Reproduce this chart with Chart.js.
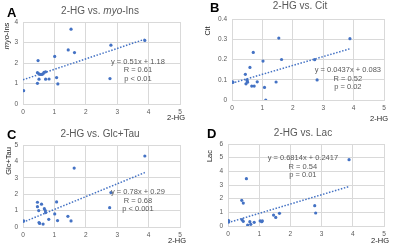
<!DOCTYPE html>
<html>
<head>
<meta charset="utf-8">
<script src="https://cdn.jsdelivr.net/npm/chart.js@4.4.0/dist/chart.umd.min.js"></script>
<style>
  body { margin: 0; background: #fff; width: 400px; height: 247px; position: relative; overflow: hidden; }
  canvas { position: absolute; }
</style>
</head>
<body>
<canvas id="cA" width="200" height="123" style="left:0;top:0"></canvas>
<canvas id="cB" width="200" height="123" style="left:200px;top:0"></canvas>
<canvas id="cC" width="200" height="124" style="left:0;top:123px"></canvas>
<canvas id="cD" width="200" height="124" style="left:200px;top:123px"></canvas>
<script>
// A: 2-HG vs myo-Ins
const hgA  = [0.02, 0.46, 0.46, 0.48, 0.51, 0.51, 0.55, 0.60, 0.64, 0.67, 0.72, 0.72, 0.83, 1.01, 1.07, 1.11, 1.44, 1.53, 1.64, 2.77, 2.80, 3.88];
const insA = [0.65, 1.01, 1.53, 2.12, 1.47, 1.21, 1.44, 1.44, 1.47, 1.55, 1.57, 1.21, 1.22, 2.32, 1.29, 0.98, 2.64, 3.65, 2.51, 1.24, 2.87, 3.10];
const fitA = [[0, 1.18], [3.88, 3.16]];
const eqA  = ['y = 0.51x + 1.18', 'R = 0.61', 'p < 0.01'];

// B: 2-HG vs Cit
const hgB  = [0.02, 0.03, 0.44, 0.46, 0.49, 0.50, 0.51, 0.59, 0.65, 0.70, 0.73, 0.83, 1.02, 1.07, 1.11, 1.45, 1.54, 1.63, 2.72, 2.80, 3.88];
const citB = [0.089, 0.088, 0.127, 0.080, 0.100, 0.094, 0.088, 0.161, 0.069, 0.235, 0.069, 0.090, 0.192, 0.062, 0.000, 0.089, 0.306, 0.200, 0.199, 0.099, 0.303];
const fitB = [[0, 0.083], [3.88, 0.253]];
const eqB  = ['y = 0.0437x + 0.083', 'R = 0.52', 'p = 0.02'];

// C: 2-HG vs Glc+Tau
const hgC  = [0.02, 0.46, 0.46, 0.50, 0.51, 0.53, 0.59, 0.64, 0.68, 0.71, 0.72, 0.82, 1.01, 1.07, 1.10, 1.43, 1.53, 1.63, 2.76, 2.80, 3.88];
const glcC = [0.37, 1.51, 1.24, 1.00, 0.27, 0.22, 1.39, 0.18, 1.12, 1.00, 0.88, 0.47, 0.80, 1.53, 0.39, 0.65, 0.37, 3.59, 1.18, 2.10, 4.33];
const fitC = [[0, 0.29], [3.88, 3.32]];
const eqC  = ['y = 0.78x + 0.29', 'R = 0.68', 'p < 0.001'];

// D: 2-HG vs Lac
const hgD  = [0.02, 0.02, 0.44, 0.45, 0.49, 0.49, 0.59, 0.63, 0.70, 0.73, 0.84, 1.03, 1.08, 1.10, 1.46, 1.53, 1.65, 2.78, 2.81, 3.88];
const lacD = [0.40, 0.30, 1.88, 0.46, 1.68, 0.34, 3.46, 0.07, 0.32, 0.12, 0.27, 0.37, 0.32, 0.37, 0.80, 0.63, 0.93, 1.49, 0.95, 4.85];
const fitD = [[0, 0.2417], [3.88, 2.89]];
const eqD  = ['y = 0.6814x + 0.2417', 'R = 0.54', 'p = 0.01'];

const blue = '#4472C4';
const grey = '#595959';
const font = 'Liberation Sans, Arial, sans-serif';

function pts(xs, ys) { return xs.map((x, i) => ({x: x, y: ys[i]})); }

// draw a string made of plain / italic pieces
function drawParts(ctx, parts, size, weight, x, y, align) {
  let w = 0;
  parts.forEach(p => {
    ctx.font = (p.i ? 'italic ' : '') + weight + ' ' + size + 'px ' + font;
    w += ctx.measureText(p.t).width;
  });
  let cx = align == 'center' ? x - w / 2 : x;
  ctx.textAlign = 'left';
  parts.forEach(p => {
    ctx.font = (p.i ? 'italic ' : '') + weight + ' ' + size + 'px ' + font;
    ctx.fillText(p.t, cx, y);
    cx += ctx.measureText(p.t).width;
  });
}

const panelText = {
  id: 'panelText',
  afterDraw(chart, args, o) {
    const ctx = chart.ctx;
    const xs = chart.scales.x, ys = chart.scales.y;
    ctx.save();
    ctx.textBaseline = 'middle';
    // letter
    ctx.fillStyle = '#000';
    ctx.font = 'bold 13px ' + font;
    ctx.textAlign = 'left';
    ctx.fillText(o.letter, o.letterPos[0], o.letterPos[1]);
    // title
    ctx.fillStyle = grey;
    drawParts(ctx, o.title, 10, 'normal', o.titlePos[0], o.titlePos[1], 'center');
    // y title
    ctx.fillStyle = '#222';
    ctx.save();
    ctx.translate(o.yTitlePos[0], o.yTitlePos[1]);
    ctx.rotate(-Math.PI / 2);
    drawParts(ctx, o.yTitle, 7.5, 'normal', 0, 0, 'center');
    ctx.restore();
    // x title
    drawParts(ctx, [{t: '2-HG'}], 7.5, 'normal', o.xTitlePos[0], o.xTitlePos[1], 'center');
    // equation
    ctx.fillStyle = grey;
    ctx.font = '7.5px ' + font;
    ctx.textAlign = 'center';
    const ex = xs.getPixelForValue(o.eqAt[0]);
    const ey = ys.getPixelForValue(o.eqAt[1]);
    o.eq.forEach((s, i) => ctx.fillText(s, ex, ey + i * 8.4));
    ctx.restore();
  }
};

function makeChart(id, xs, ys, fit, yMax, yStep, box, text) {
  return new Chart(document.getElementById(id), {
    type: 'scatter',
    data: {
      datasets: [{
        data: pts(xs, ys),
        backgroundColor: blue,
        borderColor: blue,
        pointRadius: 1.6,
        pointHoverRadius: 1.6,
        borderWidth: 0
      }, {
        data: fit.map(p => ({x: p[0], y: p[1]})),
        showLine: true,
        borderColor: blue,
        borderWidth: 1.5,
        borderDash: [1.5, 1.6],
        pointRadius: 0
      }]
    },
    options: {
      responsive: false,
      animation: false,
      devicePixelRatio: 1,
      layout: { padding: { top: box.top, right: box.right, left: 0, bottom: 0 } },
      plugins: {
        legend: { display: false },
        tooltip: { enabled: false },
        panelText: text
      },
      scales: {
        x: {
          type: 'linear', min: 0, max: 5,
          afterFit: s => { s.height = box.xH; },
          ticks: { stepSize: 1, padding: 4, color: grey, font: { size: 6.5, family: font } },
          grid: { color: '#d9d9d9', drawTicks: false },
          border: { color: '#d9d9d9' }
        },
        y: {
          type: 'linear', min: 0, max: yMax,
          afterFit: s => { s.width = box.yW; },
          ticks: { stepSize: yStep, padding: 5, color: grey, font: { size: 6.5, family: font } },
          grid: { color: '#d9d9d9', drawTicks: false },
          border: { color: '#d9d9d9' }
        }
      }
    },
    plugins: [panelText]
  });
}

makeChart('cA', hgA, insA, fitA, 4, 1,
  {top: 22, right: 20, xH: 19, yW: 23},
  {letter: 'A', letterPos: [7, 13], title: [{t: '2-HG vs. '}, {t: 'myo', i: true}, {t: '-Ins'}], titlePos: [100, 11],
   yTitle: [{t: 'myo', i: true}, {t: '-Ins'}], yTitlePos: [7, 36], xTitlePos: [176, 118],
   eq: eqA, eqAt: [3.66, 2.06]});

makeChart('cB', hgB, citB, fitB, 0.4, 0.1,
  {top: 19, right: 16, xH: 23, yW: 32},
  {letter: 'B', letterPos: [10, 8], title: [{t: '2-HG vs. Cit'}], titlePos: [100, 6],
   yTitle: [{t: 'Cit'}], yTitlePos: [8, 31], xTitlePos: [179, 119],
   eq: eqB, eqAt: [3.81, 0.146]});

makeChart('cC', hgC, glcC, fitC, 5, 1,
  {top: 22, right: 20, xH: 20, yW: 23},
  {letter: 'C', letterPos: [7, 12], title: [{t: '2-HG vs. Glc+Tau'}], titlePos: [100, 11],
   yTitle: [{t: 'Glc+Tau'}], yTitlePos: [9, 38], xTitlePos: [177, 118],
   eq: eqC, eqAt: [3.66, 2.11]});

makeChart('cD', hgD, lacD, fitD, 6, 1,
  {top: 21, right: 16, xH: 21, yW: 28},
  {letter: 'D', letterPos: [7, 11], title: [{t: '2-HG vs. Lac'}], titlePos: [103, 10],
   yTitle: [{t: 'Lac'}], yTitlePos: [10, 33], xTitlePos: [180, 118],
   eq: eqD, eqAt: [2.4, 4.97]});
</script>
</body>
</html>
